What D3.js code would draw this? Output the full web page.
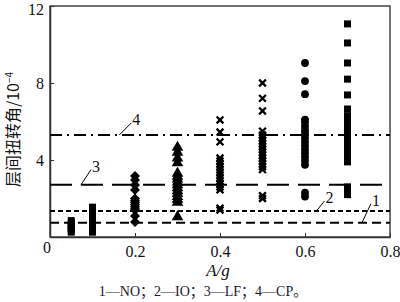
<!DOCTYPE html>
<html lang="zh">
<head>
<meta charset="UTF-8">
<title>层间扭转角</title>
<script src="https://d3js.org/d3.v7.min.js"></script>
<style>
    body { margin: 0; background: #fff; }
    svg { display: block; }
    .tick-label { font-family: "Liberation Serif", "Times New Roman", serif; font-size: 16px; fill: #111; }
</style>
</head>
<body>
<div id="chart"></div>
<script>
// x positions of the point groups (A/g)
const groupX = [0.05, 0.1, 0.2, 0.3, 0.4, 0.5, 0.6, 0.7];
const groupShape = ["square", "square", "diamond", "triangle", "cross", "cross", "circle", "square"];

// interstory torsion angle values (10^-4)
const g005 = [0.25, 0.35, 0.45, 0.55, 0.65, 0.75, 0.85];
const g010 = [0.25, 0.35, 0.45, 0.55, 0.65, 0.75, 0.85, 0.95, 1.05, 1.15, 1.25, 1.35, 1.45, 1.55];
const g020 = [0.78, 1.09, 1.4, 1.5, 1.6, 1.7, 1.8, 1.9, 2.0, 2.44, 2.7, 2.96, 3.17];
const g030 = [1.05, 1.8, 1.95, 2.1, 2.25, 2.4, 2.55, 2.7, 2.85, 3.0, 3.15, 3.3, 3.85, 4.1, 4.4, 4.65];
const g040 = [1.4, 1.5, 2.45, 2.6, 2.75, 2.9, 3.05, 3.2, 3.35, 3.5, 3.65, 3.8, 3.95, 4.1, 4.94, 5.45, 6.08];
const g050 = [2.0, 2.15, 3.5, 3.65, 3.8, 3.95, 4.1, 4.25, 4.4, 4.55, 4.7, 4.85, 5.0, 5.15, 5.3, 5.5, 6.55, 7.2, 8.0];
const g060 = [2.1, 2.3, 3.75, 3.95, 4.15, 4.35, 4.55, 4.75, 4.95, 5.15, 5.35, 5.55, 5.75, 5.95, 6.1, 7.42, 8.1, 9.04];
const g070 = [2.2, 2.4, 2.6, 3.9, 4.1, 4.3, 4.5, 4.7, 4.9, 5.1, 5.3, 5.5, 5.7, 5.9, 6.1, 6.3, 6.65, 7.38, 8.2, 9.04, 10.08, 11.07];
const groupValues = [g005, g010, g020, g030, g040, g050, g060, g070];

// reference lines 1—NO, 2—IO, 3—LF, 4—CP
const refLabels = ["1", "2", "3", "4"];
const refValues = [0.74, 1.35, 2.72, 5.3];
const refDash = ["9,5", "5,3", "22,9", "12,5,2,5"];

const xTicks = [0.2, 0.4, 0.6, 0.8];
const yTicks = [4, 8, 12];

const width = 400, height = 302;
const margin = { top: 6, right: 10, bottom: 65, left: 50 };

const svg = d3.select("#chart").append("svg")
    .attr("width", width)
    .attr("height", height);

const x = d3.scaleLinear().domain([0, 0.8]).range([margin.left, width - margin.right]);
const y = d3.scaleLinear().domain([0, 12]).range([height - margin.bottom, margin.top]);

// frame
svg.append("rect")
    .attr("x", x(0)).attr("y", y(12))
    .attr("width", x(0.8) - x(0)).attr("height", y(0) - y(12))
    .attr("fill", "none").attr("stroke", "#444").attr("stroke-width", 1.5);

// axes with inward ticks
const xAxis = svg.append("g")
    .attr("transform", `translate(0,${y(0)})`)
    .call(d3.axisBottom(x).tickValues(xTicks).tickSizeInner(-4).tickSizeOuter(0).tickPadding(6)
        .tickFormat(d3.format(".1f")));
const yAxis = svg.append("g")
    .attr("transform", `translate(${x(0)},0)`)
    .call(d3.axisLeft(y).tickValues(yTicks).tickSizeInner(-4).tickSizeOuter(0).tickPadding(6));
[xAxis, yAxis].forEach(a => {
    a.select(".domain").attr("stroke", "#333").attr("stroke-width", 1.5);
    a.selectAll("line").attr("stroke", "#333");
    a.selectAll("text").attr("class", "tick-label").attr("font-family", null).attr("font-size", null);
});
xAxis.selectAll("text").attr("dy", "0.9em");
// keep the top label inside the picture
yAxis.selectAll("text").filter(d => d === 12).attr("dy", "0.5em");

svg.append("text").attr("class", "tick-label")
    .attr("x", x(0) - 3).attr("y", y(0) + 16)
    .attr("text-anchor", "middle").text("0");

// reference lines
refValues.forEach((v, i) => {
    svg.append("line")
        .attr("x1", x(0)).attr("x2", x(0.8))
        .attr("y1", y(v)).attr("y2", y(v))
        .attr("stroke", "#000").attr("stroke-width", 2)
        .attr("stroke-dasharray", refDash[i]);
});

// labels with leader lines
const leaders = [
    { label: "1", xv: 0.734, v: refValues[0], dx: 9, dy: -19 },
    { label: "2", xv: 0.627, v: refValues[1], dx: 8, dy: -10 },
    { label: "3", xv: 0.073, v: refValues[2], dx: 10, dy: -15 },
    { label: "4", xv: 0.163, v: refValues[3], dx: 12, dy: -12 }
];
leaders.forEach(d => {
    const x0 = x(d.xv), y0 = y(d.v);
    svg.append("line")
        .attr("x1", x0).attr("y1", y0)
        .attr("x2", x0 + d.dx).attr("y2", y0 + d.dy)
        .attr("stroke", "#000").attr("stroke-width", 1);
    svg.append("text").attr("class", "tick-label")
        .attr("x", x0 + d.dx + 1).attr("y", y0 + d.dy + 2)
        .text(d.label);
});

// markers
const markerG = svg.append("g");
groupX.forEach((gx, gi) => {
    const shape = groupShape[gi];
    groupValues[gi].forEach(v => {
        const cx = x(gx), cy = y(v);
        if (shape === "cross") {
            const r = 3.4;
            markerG.append("path")
                .attr("d", `M${cx - r},${cy - r}L${cx + r},${cy + r}M${cx - r},${cy + r}L${cx + r},${cy - r}`)
                .attr("stroke", "#000").attr("stroke-width", 2.3);
        } else if (shape === "diamond") {
            markerG.append("path")
                .attr("d", `M${cx},${cy - 5}L${cx + 5},${cy}L${cx},${cy + 5}L${cx - 5},${cy}Z`)
                .attr("fill", "#000");
        } else {
            const sym = shape === "square" ? d3.symbolSquare
                : shape === "triangle" ? d3.symbolTriangle : d3.symbolCircle;
            const size = shape === "square" ? 49 : shape === "triangle" ? 58 : 48;
            markerG.append("path")
                .attr("d", d3.symbol().type(sym).size(size)())
                .attr("transform", `translate(${cx},${cy})`)
                .attr("fill", "#000");
        }
    });
});

// axis titles
svg.append("text")
    .attr("transform", `translate(19,${(y(0) + y(12)) / 2 + 8}) rotate(-90)`)
    .attr("text-anchor", "middle")
    .style("font-family", "'Noto Sans CJK SC', 'Liberation Serif', serif")
    .style("font-size", "16px")
    .attr("fill", "#111")
    .html('层间扭转角/10<tspan dy="-6" font-size="10px">−4</tspan>');

svg.append("text")
    .attr("x", 218).attr("y", 276)
    .attr("text-anchor", "middle")
    .style("font-family", "'Liberation Serif', serif")
    .style("font-style", "italic")
    .style("font-size", "17px")
    .attr("fill", "#111")
    .text("A/g");

svg.append("text")
    .attr("x", 203).attr("y", 296)
    .attr("text-anchor", "middle")
    .style("font-family", "'Liberation Serif', 'Noto Sans CJK SC', serif")
    .style("font-size", "14px")
    .attr("fill", "#1a1a2e")
    .text("1—NO；2—IO；3—LF；4—CP。");
</script>
</body>
</html>
